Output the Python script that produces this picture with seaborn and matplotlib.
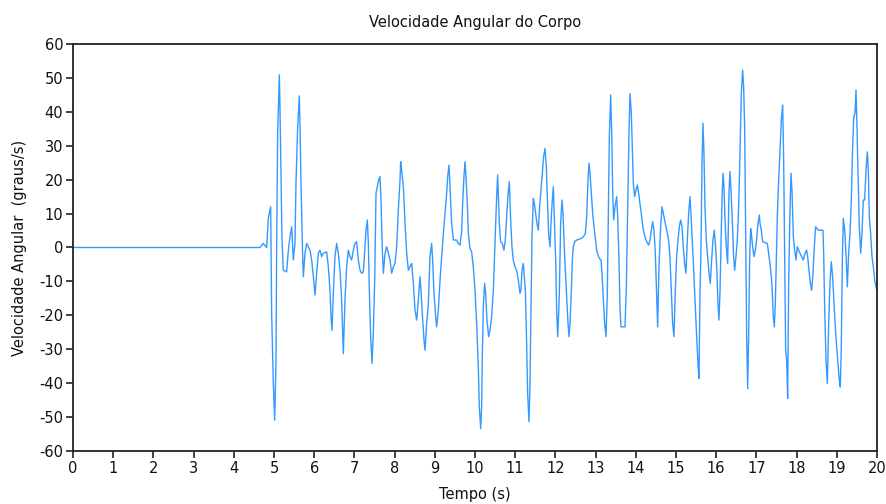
import pandas as pd
import matplotlib
matplotlib.use("Agg")
import matplotlib.pyplot as plt
import seaborn as sns

# Sinal: tempo (s) e velocidade angular (graus/s)
tempo = [
    0.0, 4.65, 4.735, 4.818, 4.859, 4.917, 4.942, 4.983, 5.017, 5.05,
    5.066, 5.091, 5.133, 5.149, 5.174, 5.199, 5.232, 5.315, 5.357, 5.398,
    5.44, 5.481, 5.522, 5.547, 5.589, 5.63, 5.647, 5.672, 5.705, 5.73,
    5.771, 5.813, 5.854, 5.896, 5.937, 5.979, 6.02, 6.061, 6.103, 6.144,
    6.186, 6.227, 6.31, 6.352, 6.393, 6.418, 6.443, 6.476, 6.517, 6.559,
    6.6, 6.642, 6.683, 6.725, 6.766, 6.808, 6.849, 6.891, 6.932, 6.974,
    7.015, 7.057, 7.098, 7.14, 7.181, 7.223, 7.264, 7.289, 7.322, 7.347,
    7.372, 7.405, 7.438, 7.471, 7.505, 7.538, 7.571, 7.604, 7.637, 7.662,
    7.695, 7.72, 7.762, 7.803, 7.845, 7.886, 7.928, 7.969, 8.01, 8.052,
    8.093, 8.135, 8.151, 8.176, 8.218, 8.259, 8.301, 8.342, 8.384, 8.425,
    8.466, 8.508, 8.549, 8.591, 8.632, 8.657, 8.69, 8.732, 8.757, 8.798,
    8.84, 8.881, 8.922, 8.947, 8.98, 9.022, 9.047, 9.088, 9.13, 9.171,
    9.213, 9.254, 9.296, 9.321, 9.354, 9.379, 9.42, 9.462, 9.544, 9.586,
    9.627, 9.668, 9.693, 9.726, 9.751, 9.776, 9.809, 9.834, 9.876, 9.917,
    9.958, 10.0, 10.041, 10.083, 10.108, 10.141, 10.166, 10.182, 10.207, 10.24,
    10.265, 10.298, 10.34, 10.373, 10.415, 10.456, 10.497, 10.539, 10.564, 10.605,
    10.638, 10.68, 10.721, 10.754, 10.788, 10.821, 10.854, 10.887, 10.92, 10.953,
    10.995, 11.036, 11.078, 11.119, 11.144, 11.169, 11.202, 11.227, 11.252, 11.285,
    11.31, 11.343, 11.368, 11.393, 11.418, 11.451, 11.476, 11.509, 11.542, 11.575,
    11.608, 11.642, 11.675, 11.708, 11.741, 11.774, 11.799, 11.832, 11.866, 11.899,
    11.924, 11.949, 11.982, 12.007, 12.032, 12.057, 12.081, 12.098, 12.131, 12.164,
    12.189, 12.214, 12.247, 12.281, 12.314, 12.339, 12.364, 12.397, 12.422, 12.446,
    12.48, 12.529, 12.654, 12.695, 12.745, 12.778, 12.811, 12.836, 12.861, 12.894,
    12.927, 12.961, 12.994, 13.027, 13.06, 13.093, 13.135, 13.16, 13.193, 13.226,
    13.259, 13.292, 13.317, 13.342, 13.375, 13.4, 13.425, 13.45, 13.483, 13.524,
    13.549, 13.582, 13.607, 13.632, 13.732, 13.765, 13.798, 13.831, 13.856, 13.889,
    13.914, 13.939, 13.972, 14.005, 14.038, 14.071, 14.104, 14.146, 14.188, 14.229,
    14.271, 14.32, 14.354, 14.387, 14.42, 14.453, 14.486, 14.519, 14.544, 14.577,
    14.618, 14.652, 14.685, 14.718, 14.751, 14.784, 14.817, 14.85, 14.884, 14.917,
    14.95, 14.983, 15.016, 15.05, 15.083, 15.116, 15.149, 15.182, 15.215, 15.248,
    15.282, 15.315, 15.348, 15.381, 15.414, 15.448, 15.481, 15.514, 15.547, 15.572,
    15.597, 15.622, 15.646, 15.671, 15.696, 15.721, 15.754, 15.787, 15.821, 15.854,
    15.887, 15.92, 15.953, 15.986, 16.02, 16.044, 16.069, 16.094, 16.119, 16.144,
    16.169, 16.194, 16.219, 16.252, 16.285, 16.318, 16.343, 16.368, 16.401, 16.434,
    16.459, 16.492, 16.525, 16.55, 16.575, 16.6, 16.625, 16.658, 16.683, 16.708,
    16.733, 16.758, 16.783, 16.807, 16.832, 16.857, 16.882, 16.907, 16.94, 16.973,
    17.006, 17.04, 17.073, 17.09, 17.123, 17.156, 17.272, 17.305, 17.338, 17.372,
    17.397, 17.421, 17.446, 17.471, 17.496, 17.521, 17.554, 17.587, 17.62, 17.654,
    17.678, 17.703, 17.728, 17.753, 17.778, 17.803, 17.836, 17.861, 17.886, 17.919,
    17.952, 17.985, 18.018, 18.052, 18.085, 18.126, 18.168, 18.209, 18.251, 18.275,
    18.309, 18.342, 18.375, 18.408, 18.441, 18.474, 18.541, 18.624, 18.657, 18.674,
    18.698, 18.732, 18.765, 18.798, 18.831, 18.864, 18.897, 18.931, 18.964, 18.997,
    19.03, 19.063, 19.088, 19.113, 19.138, 19.163, 19.196, 19.229, 19.262, 19.295,
    19.329, 19.362, 19.387, 19.42, 19.453, 19.478, 19.503, 19.528, 19.561, 19.594,
    19.627, 19.66, 19.693, 19.727, 19.76, 19.785, 19.809, 19.843, 19.876, 19.909,
    19.942, 19.975, 20.0,
]
velocidade = [
    0.0, 0.0, 1.2, 0.0, 8.6, 12.0, -19.5, -40.1, -50.9, -33.7,
    0.2, 33.6, 50.9, 41.0, 21.9, 2.2, -6.7, -7.2, -0.8, 3.2,
    6.1, -3.7, 1.2, 18.9, 35.6, 44.7, 35.6, 18.9, 1.2, -8.6,
    -1.7, 1.2, 0.2, -0.8, -3.7, -8.6, -14.0, -7.6, -1.7, -0.8,
    -2.7, -1.7, -1.3, -5.7, -12.6, -20.4, -24.4, -13.5, -2.7, 1.2,
    -1.7, -6.7, -15.5, -31.3, -15.5, -5.7, -0.8, -2.7, -3.7, -0.8,
    1.2, 1.7, -3.7, -6.7, -7.6, -7.2, 0.2, 5.1, 8.1, 1.2,
    -12.6, -26.3, -34.2, -25.3, -9.6, 16.0, 17.9, 19.9, 20.9, 14.0,
    -0.8, -7.6, -1.7, 0.2, -1.7, -3.7, -7.6, -5.7, -4.7, 0.2,
    11.0, 19.9, 25.3, 22.8, 17.9, 7.1, -1.7, -6.7, -5.7, -4.7,
    -10.6, -18.5, -21.4, -15.5, -8.6, -12.6, -19.5, -27.3, -30.3, -22.4,
    -16.5, -2.7, 1.2, -3.7, -13.5, -20.4, -23.4, -18.5, -9.6, -2.7,
    4.1, 10.1, 16.0, 20.9, 24.3, 17.9, 7.1, 2.2, 2.2, 1.2,
    0.7, 4.6, 13.0, 20.9, 25.3, 20.9, 13.0, 4.1, -0.3, -1.3,
    -5.7, -12.6, -22.4, -35.2, -47.0, -53.4, -47.0, -32.2, -17.5, -10.6,
    -13.5, -21.4, -26.3, -24.4, -20.4, -12.6, 1.2, 15.0, 21.4, 7.1,
    1.7, 1.2, -0.8, 2.2, 9.1, 15.5, 19.4, 8.1, 0.2, -3.7,
    -5.7, -6.7, -9.6, -13.5, -12.6, -6.7, -4.7, -8.6, -12.6, -28.3,
    -43.0, -51.4, -40.1, -18.5, 3.2, 14.5, 13.0, 10.1, 7.1, 5.1,
    12.0, 16.9, 21.9, 26.8, 29.2, 23.8, 15.0, 4.1, 0.2, 9.1,
    14.0, 17.9, 6.1, -3.7, -18.5, -26.3, -19.5, -13.5, 7.1, 14.0,
    10.1, 2.2, -6.7, -14.5, -22.4, -26.3, -22.4, -12.6, -3.7, 0.2,
    1.7, 2.2, 2.7, 3.2, 4.1, 9.1, 19.9, 24.8, 21.9, 16.0,
    10.1, 6.1, 2.7, -0.8, -2.2, -3.2, -3.7, -7.6, -15.5, -22.4,
    -26.3, -13.5, 9.1, 32.7, 45.0, 34.6, 16.9, 8.1, 12.0, 15.0,
    9.1, -3.7, -17.5, -23.4, -23.4, -11.6, 11.0, 33.6, 45.4, 39.6,
    29.7, 18.9, 15.0, 16.9, 18.4, 16.0, 13.0, 9.1, 5.1, 3.2,
    1.7, 0.7, 2.2, 5.1, 7.6, 5.1, -1.7, -14.5, -23.4, -5.7,
    6.1, 12.0, 10.1, 8.1, 6.1, 4.1, 2.2, -2.7, -12.6, -22.4,
    -26.3, -12.6, -2.7, 2.2, 6.1, 8.1, 6.1, 0.2, -4.7, -7.6,
    2.2, 10.1, 15.0, 8.1, 0.2, -8.6, -17.5, -26.3, -34.2, -38.6,
    -13.5, -0.8, 23.8, 36.6, 27.8, 12.0, 2.2, -2.7, -7.6, -10.6,
    -3.7, 2.2, 5.1, 0.2, -7.6, -16.5, -21.4, -13.5, 0.2, 14.0,
    21.9, 17.9, 8.1, 0.2, -4.7, 16.0, 22.4, 16.9, 8.1, -2.7,
    -6.7, -2.7, 2.2, 9.1, 18.9, 32.2, 45.4, 52.3, 47.4, 35.6,
    3.2, -26.3, -41.6, -26.3, -3.7, 5.6, 3.2, 0.2, -2.7, -0.8,
    2.2, 7.1, 9.6, 7.1, 5.1, 1.7, 1.2, -1.7, -4.7, -8.6,
    -13.5, -20.4, -23.4, -16.5, -3.7, 9.1, 19.9, 28.2, 37.6, 42.0,
    26.8, -1.7, -30.3, -33.2, -44.5, -10.6, 11.0, 21.9, 16.9, 3.2,
    -0.8, -3.7, 0.2, -0.8, -1.7, -2.7, -3.7, -1.7, -0.8, -2.7,
    -6.7, -10.6, -12.6, -7.6, 0.2, 6.1, 5.1, 5.1, 5.1, -1.7,
    -17.5, -33.2, -40.1, -22.4, -10.6, -4.2, -8.6, -16.5, -23.4, -29.3,
    -34.2, -39.1, -41.1, -29.3, -3.7, 8.6, 5.1, -1.7, -11.6, -1.7,
    4.1, 14.0, 26.8, 38.1, 39.6, 46.4, 35.6, 21.9, 6.1, -1.7,
    4.1, 14.0, 14.0, 22.8, 28.2, 22.8, 9.1, 4.1, -2.7, -5.7,
    -9.6, -11.6, -12.6,
]
x_ticks = list(range(0, 21))
y_ticks = list(range(-60, 61, 10))

df = pd.DataFrame({"Tempo": tempo, "Velocidade": velocidade})

sns.set_theme(style="white")
plt.rcParams["font.family"] = ["DejaVu Sans"]
plt.rcParams["axes.unicode_minus"] = False

fig = plt.figure(figsize=(8.87, 5.04), dpi=100)
ax = fig.add_axes([0.0823, 0.1052, 0.9064, 0.8075])

sns.lineplot(data=df, x="Tempo", y="Velocidade", color="#3399ff",
             linewidth=1.0, estimator=None, ax=ax)

ax.set_xlim(0, 20)
ax.set_ylim(-60, 60)
ax.set_xticks(x_ticks)
ax.set_yticks(y_ticks)
ax.tick_params(axis="both", direction="out", length=5, width=1.2,
               color="#222222", labelsize=10.5, labelcolor="#111111", pad=2,
               bottom=True, left=True)
for s in ax.spines.values():
    s.set_color("#222222")
    s.set_linewidth(1.3)

ax.set_title("Velocidade Angular do Corpo", fontsize=10.5, color="#111111", pad=12)
ax.set_xlabel("Tempo (s)", fontsize=10.5, color="#111111", labelpad=8)
ax.set_ylabel("Velocidade Angular  (graus/s)", fontsize=10.5, color="#111111", labelpad=9)

fig.savefig("out.png", dpi=100)
